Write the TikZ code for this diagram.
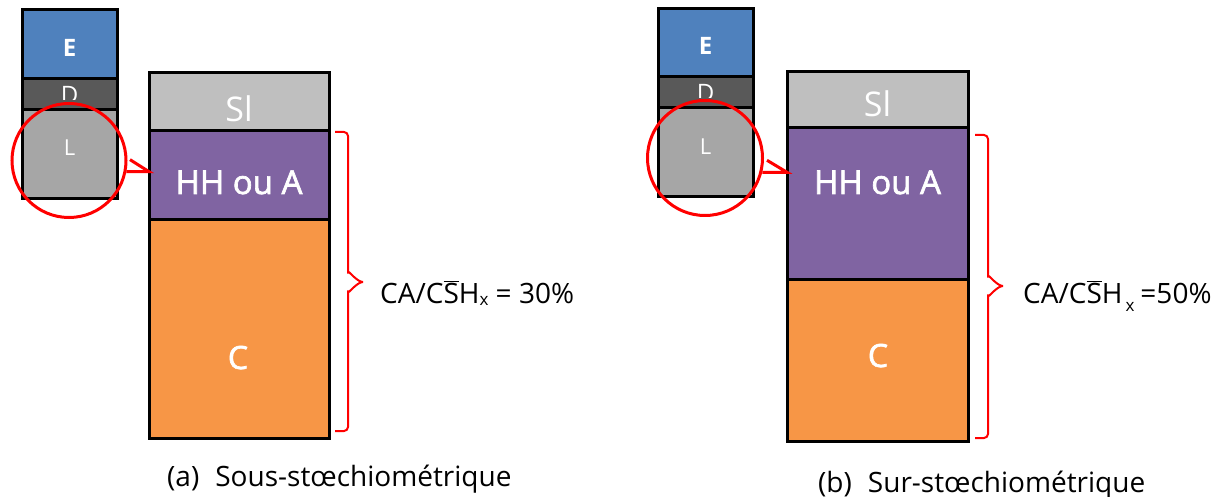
\documentclass[tikz,border=0pt]{standalone}
\usepackage{fontspec}
\setmainfont{Open Sans}
\newfontfamily\semib[FakeBold=2]{Open Sans}
\definecolor{cE}{HTML}{4F81BD}
\definecolor{cD}{HTML}{595959}
\definecolor{cL}{HTML}{A6A6A6}
\definecolor{cSl}{HTML}{BFBFBF}
\definecolor{cHH}{HTML}{8064A2}
\definecolor{cC}{HTML}{F79646}
\definecolor{myred}{HTML}{FF0000}
\newcommand\Sbar{$\overline{\mbox{S}}$}
\tikzset{
  layer/.style={rectangle, draw=black, line width=3pt, inner sep=0pt, outer sep=0pt},
  lbl/.style={text=white, inner sep=0pt, anchor=base},
  ring/.style={circle, draw=myred, line width=3pt, inner sep=0pt, minimum size=114pt},
  pointer/.style={draw=myred, line width=3pt, line join=miter},
  brace/.style={draw=myred, line width=2pt, rounded corners=4pt},
  formula/.style={inner sep=0pt, anchor=base west, font=\fontsize{28}{30}\selectfont},
  caption/.style={inner sep=0pt, anchor=base west, font=\fontsize{28}{30}\selectfont}
}
\begin{document}
\begin{tikzpicture}[x=1pt,y=-1pt]
\useasboundingbox (0,0) rectangle (1224,497);
% ---------------- (a) ----------------
\node[layer, fill=cE, minimum width=95pt, minimum height=69pt] (eA) at (69.5,44.5) {};
\node[lbl, font=\fontsize{24}{26}\selectfont\bfseries] (teA) at (69.5,57) {E};
\node[layer, fill=cD, minimum width=95pt, minimum height=31pt] (dA) at (69.5,94.5) {};
\begin{scope}
\clip (22,80) rectangle (117,100);
\node[lbl, font=\fontsize{24}{26}\selectfont] (tdA) at (69.5,104) {D};
\end{scope}
\node[layer, fill=cL, minimum width=95pt, minimum height=89pt] (lA) at (69.5,154.5) {};
\node[lbl, font=\fontsize{22}{24}\selectfont] (tlA) at (69.5,156) {L};

\node[layer, fill=cSl, minimum width=180pt, minimum height=58pt] (slA) at (239,102) {};
\node[lbl, font=\fontsize{34}{36}\selectfont] (tslA) at (239,122) {Sl};
\node[layer, fill=cHH, minimum width=180pt, minimum height=89pt] (hhA) at (239,175.5) {};
\node[lbl, font=\fontsize{33}{36}\selectfont\semib] (thhA) at (239,194) {HH ou A};
\node[layer, fill=cC, minimum width=180pt, minimum height=218pt] (cA) at (239,329) {};
\node[lbl, font=\fontsize{32}{34}\selectfont\semib] (tcA) at (238,369) {C};

\node[ring] (rA) at (69,160.5) {};
\coordinate (tipA) at (rA.-11 -| hhA.west);
\draw[pointer] (rA.-11) -- (tipA) -- ++(-19,-12);

\draw[brace] (335,132) -- (348,132) -- (348,276) to[out=90,in=180] (363,282);
\draw[brace] (363,282) to[out=180,in=-90] (348,288) -- (348,431) -- (335,431);

\node[formula] (fA) at (380,303) {CA/C\Sbar H\raisebox{-2pt}{\fontsize{17}{18}\selectfont x} = 30\%};
\node[caption] (capA) at (167,486) {(a)\hspace{16pt}Sous-stœchiométrique};

% ---------------- (b) ----------------
\node[layer, fill=cE, minimum width=95pt, minimum height=68pt] (eB) at (705.5,43) {};
\node[lbl, font=\fontsize{24}{26}\selectfont\bfseries] (teB) at (705.5,55) {E};
\node[layer, fill=cD, minimum width=95pt, minimum height=31pt] (dB) at (705.5,92.5) {};
\begin{scope}
\clip (658,78) rectangle (753,98);
\node[lbl, font=\fontsize{24}{26}\selectfont] (tdB) at (705.5,102) {D};
\end{scope}
\node[layer, fill=cL, minimum width=95pt, minimum height=89pt] (lB) at (705.5,152.5) {};
\node[lbl, font=\fontsize{22}{24}\selectfont] (tlB) at (705.5,155) {L};

\node[layer, fill=cSl, minimum width=181pt, minimum height=56pt] (slB) at (877.5,100) {};
\node[lbl, font=\fontsize{34}{36}\selectfont] (tslB) at (877.5,117) {Sl};
\node[layer, fill=cHH, minimum width=181pt, minimum height=152pt] (hhB) at (877.5,204) {};
\node[lbl, font=\fontsize{33}{36}\selectfont\semib] (thhB) at (877.5,194) {HH ou A};
\node[layer, fill=cC, minimum width=181pt, minimum height=161pt] (cB) at (877.5,360.5) {};
\node[lbl, font=\fontsize{32}{34}\selectfont\semib] (tcB) at (878,367) {C};

\node[ring, minimum size=115pt] (rB) at (705,158) {};
\coordinate (tipB) at (rB.-14 -| hhB.west);
\draw[pointer] (rB.-14) -- (tipB) -- ++(-20,-12);

\draw[brace] (975,135) -- (988,135) -- (988,280) to[out=90,in=180] (1003,286);
\draw[brace] (1003,286) to[out=180,in=-90] (988,292) -- (988,438) -- (975,438);

\node[formula] (fB) at (1023,303) {CA/C\Sbar H\hspace{3pt}\raisebox{-9pt}{\fontsize{17}{18}\selectfont x}\hspace{6pt}=50\%};
\node[caption] (capB) at (818,492) {(b)\hspace{16pt}Sur-stœchiométrique};
\end{tikzpicture}
\end{document}
